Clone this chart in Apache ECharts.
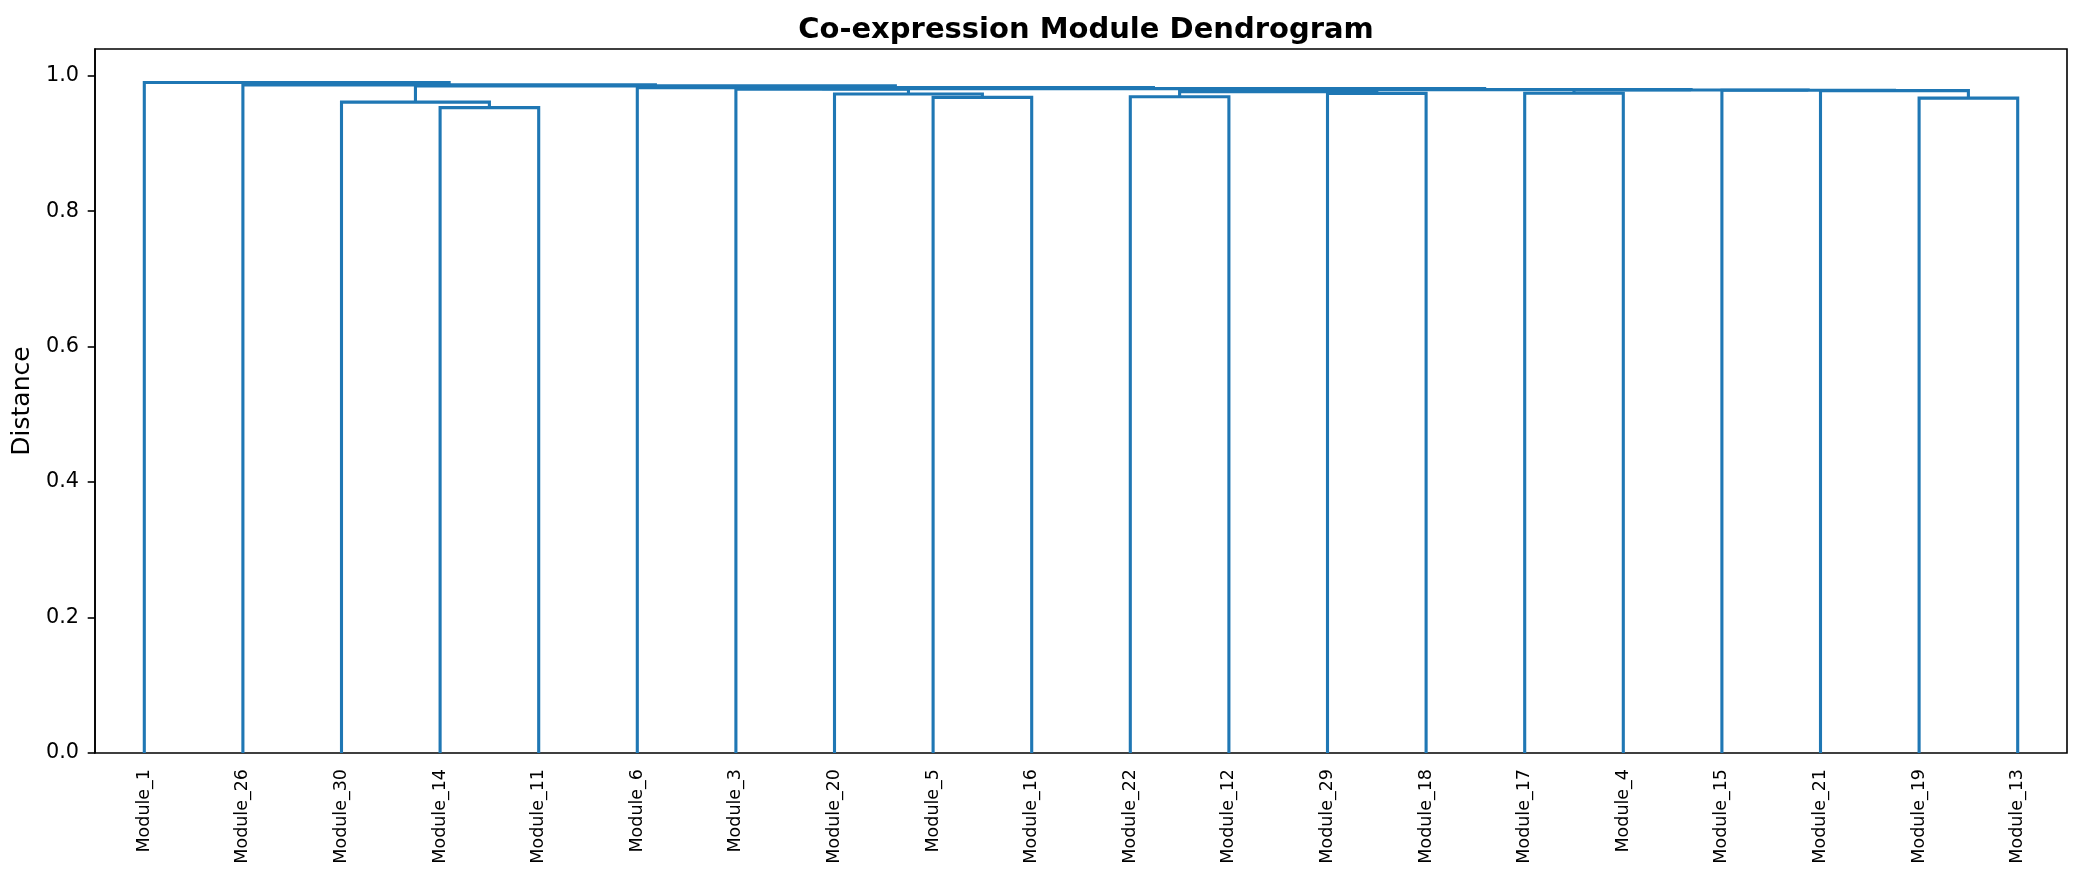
<!DOCTYPE html>
<html>
<head>
<meta charset="utf-8">
<script src="https://cdn.jsdelivr.net/npm/echarts@6/dist/echarts.min.js"></script>
<style>
  html, body { margin: 0; padding: 0; background: #ffffff; }
  #chart { width: 2082px; height: 884px; }
</style>
</head>
<body>
<div id="chart"></div>
<script>
// Leaf order along the x axis
const leaves = ['Module_1','Module_26','Module_30','Module_14','Module_11','Module_6','Module_3','Module_20','Module_5','Module_16',
                'Module_22','Module_12','Module_29','Module_18','Module_17','Module_4','Module_15','Module_21','Module_19','Module_13'];

// Linkage: cluster k joins linkLeft[k] and linkRight[k] at linkHeight[k]
// (children are leaf names or 'c<k>' for an earlier cluster)
const linkLeft   = ['Module_14','Module_30','Module_19','Module_5','Module_22','Module_20','Module_29','Module_17','c4','Module_21',
                    'Module_15','c7','c8','Module_3','c13','Module_6','c1','Module_26','Module_1'];
const linkRight  = ['Module_11','c0','Module_13','Module_16','Module_12','c3','Module_18','Module_4','c6','c2',
                    'c9','c10','c11','c5','c12','c14','c15','c16','c17'];
const linkHeight = [0.953, 0.961, 0.967, 0.968, 0.969, 0.973, 0.974, 0.9742, 0.9765, 0.978,
                    0.9785, 0.979, 0.9795, 0.9802, 0.981, 0.9825, 0.985, 0.9865, 0.990];

const yTicks = [0, 0.2, 0.4, 0.6, 0.8, 1.0];

// Build U-shaped links from the linkage
const pos = {};
leaves.forEach((n, i) => { pos[n] = { x: i, y: 0 }; });
const links = [];
linkLeft.forEach((l, k) => {
  const r = linkRight[k], h = linkHeight[k];
  const a = pos[l], b = pos[r];
  links.push([a.x, a.y, b.x, b.y, h]);
  pos['c' + k] = { x: (a.x + b.x) / 2, y: h };
});
const yMax = Math.max.apply(null, linkHeight) * 1.05;

const chart = echarts.init(document.getElementById('chart'), null, { renderer: 'canvas' });
const FONT = 'DejaVu Sans';
chart.setOption({
  animation: false,
  backgroundColor: '#ffffff',
  title: {
    text: 'Co-expression Module Dendrogram',
    left: 1081, top: 11, textAlign: 'center',
    textStyle: { fontFamily: FONT, fontSize: 29, fontWeight: 'bold', color: '#000' }
  },
  grid: {
    left: 95, right: 15, top: 49, bottom: 131,
    show: true, borderColor: '#000', borderWidth: 1.6, backgroundColor: 'transparent'
  },
  xAxis: [
    {
      type: 'category', data: leaves, position: 'bottom',
      axisLine: { show: false }, axisTick: { show: false }, splitLine: { show: false },
      axisLabel: { rotate: 90, fontFamily: FONT, fontSize: 17.5, color: '#000', margin: 16, interval: 0 }
    },
    { type: 'value', min: -0.5, max: leaves.length - 0.5, show: false }
  ],
  yAxis: {
    type: 'value', min: 0, max: yMax, interval: 0.2, position: 'left',
    name: 'Distance', nameLocation: 'middle', nameGap: 51,
    nameTextStyle: { fontFamily: FONT, fontSize: 25, color: '#000' },
    axisLine: { show: true, onZero: false, lineStyle: { color: '#000', width: 1.6 } },
    axisTick: { show: true, length: 7.3, customValues: yTicks, lineStyle: { color: '#000', width: 1.6 } },
    splitLine: { show: false },
    axisLabel: {
      customValues: yTicks, fontFamily: FONT, fontSize: 20.8, color: '#000', margin: 16,
      formatter: v => v.toFixed(1)
    }
  },
  series: [{
    type: 'custom', xAxisIndex: 1, yAxisIndex: 0,
    data: links,
    encode: { x: [0, 2], y: [1, 3, 4] },
    renderItem: (params, api) => {
      const p1 = api.coord([api.value(0), api.value(1)]);
      const p2 = api.coord([api.value(0), api.value(4)]);
      const p3 = api.coord([api.value(2), api.value(4)]);
      const p4 = api.coord([api.value(2), api.value(3)]);
      return {
        type: 'polyline',
        shape: { points: [p1, p2, p3, p4] },
        style: { stroke: '#1f77b4', lineWidth: 3.1, fill: null, lineJoin: 'miter' }
      };
    }
  }]
});
</script>
</body>
</html>
